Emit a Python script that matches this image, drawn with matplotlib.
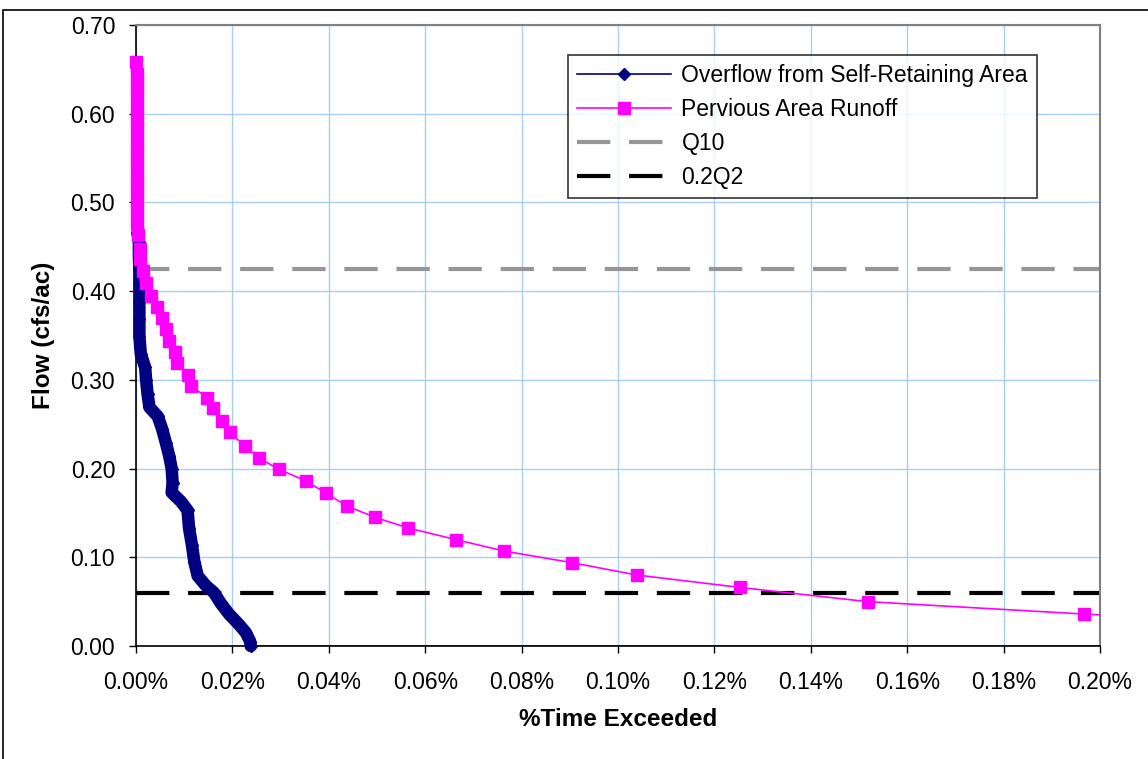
import matplotlib.pyplot as plt
from matplotlib.lines import Line2D
from matplotlib.patches import Rectangle

# % time exceeded (in percent units) and flow (cfs/ac)
overflow_x = [0.0003, 0.0006, 0.0006, 0.0007, 0.0007, 0.0007, 0.0007, 0.0007, 0.0007,
              0.0010, 0.0019, 0.0021, 0.0024, 0.0028, 0.0045, 0.0054, 0.0062, 0.0069,
              0.0074, 0.0076, 0.0074, 0.0093, 0.0107, 0.0110, 0.0116, 0.0121, 0.0128,
              0.0145, 0.0162, 0.0176, 0.0193, 0.0214, 0.0228, 0.0237, 0.0238, 0.2500]
overflow_y = [0.466, 0.455, 0.440, 0.425, 0.410, 0.408, 0.388, 0.369, 0.349,
              0.329, 0.314, 0.300, 0.284, 0.269, 0.259, 0.245, 0.229, 0.214,
              0.200, 0.184, 0.173, 0.163, 0.153, 0.133, 0.114, 0.095, 0.079,
              0.068, 0.060, 0.048, 0.036, 0.024, 0.015, 0.005, 0.000, 0.000]

pervious_x = [0.0000, 0.0002, 0.0002, 0.0002, 0.0002, 0.0002, 0.0002, 0.0002, 0.0002,
              0.0002, 0.0002, 0.0002, 0.0002, 0.0002, 0.0002,
              0.0005, 0.0009, 0.0009, 0.0015, 0.0021, 0.0031, 0.0043, 0.0054, 0.0062,
              0.0069, 0.0081, 0.0085, 0.0107, 0.0114, 0.0148, 0.0159, 0.0179, 0.0194,
              0.0227, 0.0255, 0.0297, 0.0353, 0.0395, 0.0437, 0.0496, 0.0565, 0.0663,
              0.0764, 0.0904, 0.1039, 0.1253, 0.1518, 0.1967, 0.2500]
pervious_y = [0.658, 0.645, 0.632, 0.620, 0.605, 0.593, 0.580, 0.567, 0.555,
              0.542, 0.528, 0.516, 0.503, 0.490, 0.477,
              0.463, 0.447, 0.436, 0.423, 0.409, 0.395, 0.382, 0.370, 0.357,
              0.344, 0.331, 0.319, 0.306, 0.293, 0.280, 0.268, 0.254, 0.241,
              0.225, 0.212, 0.199, 0.186, 0.172, 0.158, 0.145, 0.133, 0.120,
              0.107, 0.094, 0.080, 0.066, 0.050, 0.036, 0.022]

q10 = 0.425
q2_02 = 0.060

x_ticks = [0.00, 0.02, 0.04, 0.06, 0.08, 0.10, 0.12, 0.14, 0.16, 0.18, 0.20]
y_ticks = [0.00, 0.10, 0.20, 0.30, 0.40, 0.50, 0.60, 0.70]

plt.rcParams['font.family'] = ['Liberation Sans', 'DejaVu Sans']

W, H = 1148, 759
fig = plt.figure(figsize=(W / 100, H / 100), dpi=100)
fig.patches.append(Rectangle((3 / W, -0.05), 1.05, 1 - 10 / H + 0.05, transform=fig.transFigure,
                             fill=False, edgecolor='black', linewidth=1.2))

ax = fig.add_axes([136 / W, 1 - 646 / H, 964 / W, 621 / H])

navy = '#000080'
pink = '#FF00FF'
gray = '#969696'

# overflow: thick band standing in for the dense diamond markers
ax.plot(overflow_x[:-1], overflow_y[:-1], color=navy, linewidth=9,
        solid_capstyle='round', solid_joinstyle='round', zorder=3, clip_on=False)
ax.plot(overflow_x, overflow_y, color=navy, linewidth=1.2, zorder=4)
ax.plot(overflow_x[:-1], overflow_y[:-1], linestyle='none', marker='D', markersize=6,
        color=navy, zorder=4, clip_on=False)

# pervious runoff: line clipped at the axes, markers allowed to overlap the y axis
ax.plot(pervious_x, pervious_y, color=pink, linewidth=1.2, zorder=5)
ax.plot(pervious_x[:-1], pervious_y[:-1], linestyle='none', marker='s', markersize=8,
        color=pink, zorder=5, clip_on=False)

ax.axhline(q10, color=gray, linewidth=3, dashes=(8, 4.5), zorder=2)
ax.axhline(q2_02, color='black', linewidth=3, dashes=(8, 4.5), zorder=2)

ax.set_xlim(0, 0.20)
ax.set_ylim(0, 0.70)
ax.set_xticks(x_ticks)
ax.set_xticklabels([f'{v:.2f}%' for v in x_ticks])
ax.set_yticks(y_ticks)
ax.set_yticklabels([f'{v:.2f}' for v in y_ticks])
ax.tick_params(labelsize=16.5, length=5, width=1, direction='out')
ax.tick_params(axis='x', pad=13)
ax.tick_params(axis='y', pad=10)
ax.grid(True, color='#A8CEF5', linewidth=1)
ax.set_axisbelow(True)
for side in ['top', 'right']:
    ax.spines[side].set_color('#808080')
    ax.spines[side].set_linewidth(1.5)
for side in ['left', 'bottom']:
    ax.spines[side].set_color('black')
    ax.spines[side].set_linewidth(1.2)

ax.set_xlabel('%Time Exceeded', fontsize=17.5, fontweight='bold', labelpad=10)
ax.set_ylabel('Flow (cfs/ac)', fontsize=17.5, fontweight='bold', labelpad=11)

handles = [
    Line2D([], [], color=navy, linewidth=1.2, marker='D', markersize=6),
    Line2D([], [], color=pink, linewidth=1.2, marker='s', markersize=8),
    Line2D([], [], color=gray, linewidth=3, dashes=(8, 4.5)),
    Line2D([], [], color='black', linewidth=3, dashes=(8, 4.5)),
]
labels = ['Overflow from Self-Retaining Area', 'Pervious Area Runoff', 'Q10', '0.2Q2']
leg = ax.legend(handles, labels, loc='upper left', bbox_to_anchor=(568 / W, 1 - 55 / H),
                bbox_transform=fig.transFigure, fontsize=16.5, frameon=True,
                fancybox=False, edgecolor='black', handlelength=4.1,
                labelspacing=0.48, borderpad=0.4, handletextpad=0.45, borderaxespad=0)
leg.get_frame().set_linewidth(1.2)

fig.savefig('out.png', dpi=100)
